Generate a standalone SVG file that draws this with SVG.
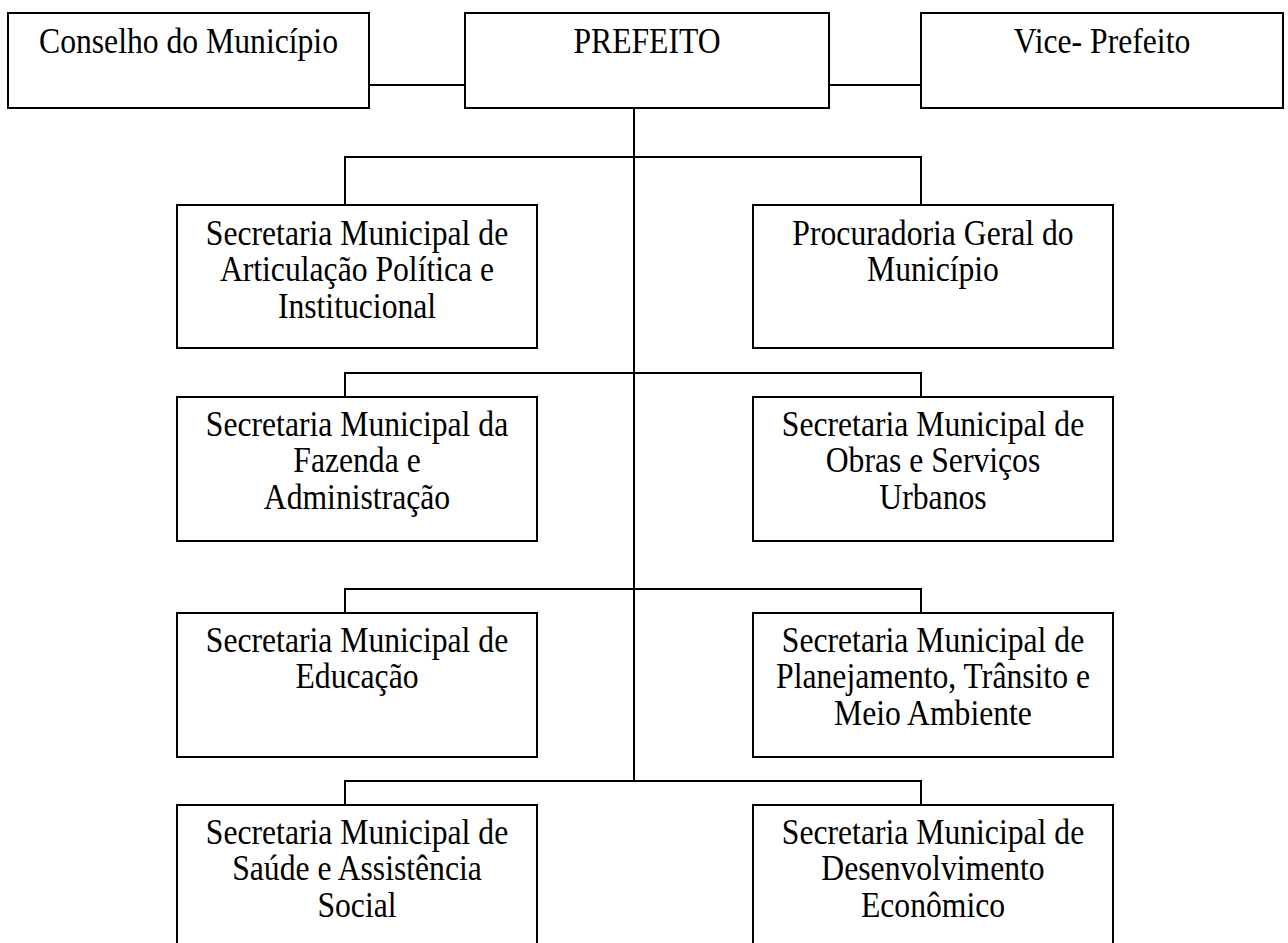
<svg xmlns="http://www.w3.org/2000/svg" width="1288" height="943" viewBox="0 0 1288 943">
<style>
.box{fill:#fff;stroke:#000;stroke-width:2}
.ln{fill:none;stroke:#000;stroke-width:2}
text{font-family:"Liberation Serif","Times New Roman",serif;font-size:35px;fill:#000;text-anchor:middle}
</style>
<rect width="1288" height="943" fill="#fff"/>
<g id="connectors">
<line class="ln" x1="369" y1="85" x2="465" y2="85"/>
<line class="ln" x1="829" y1="85" x2="921" y2="85"/>
<line class="ln" x1="634" y1="108" x2="634" y2="781"/>
<polyline class="ln" points="345,205 345,157 921,157 921,205"/>
<polyline class="ln" points="345,397 345,373 921,373 921,397"/>
<polyline class="ln" points="345,613 345,589 921,589 921,613"/>
<polyline class="ln" points="345,805 345,781 921,781 921,805"/>
</g>
<g id="conselho">
<rect class="box" x="8" y="13" width="361" height="95"/>
<g transform="matrix(0.905 0 0 1 188.5 0)"><text x="0" y="53">Conselho do Município</text></g>
</g>
<g id="prefeito">
<rect class="box" x="465" y="13" width="364" height="95"/>
<g transform="matrix(0.905 0 0 1 647 0)"><text x="0" y="53">PREFEITO</text></g>
</g>
<g id="vice">
<rect class="box" x="921" y="13" width="362" height="95"/>
<g transform="matrix(0.905 0 0 1 1102 0)"><text x="0" y="53">Vice- Prefeito</text></g>
</g>
<g id="sec-articulacao">
<rect class="box" x="177" y="205" width="360" height="143"/>
<g transform="matrix(0.905 0 0 1 357 0)">
<text x="0" y="245">Secretaria Municipal de</text>
<text x="0" y="281.5">Articulação Política e</text>
<text x="0" y="318">Institucional</text>
</g>
</g>
<g id="procuradoria">
<rect class="box" x="753" y="205" width="360" height="143"/>
<g transform="matrix(0.905 0 0 1 933 0)">
<text x="0" y="245">Procuradoria Geral do</text>
<text x="0" y="281.5">Município</text>
</g>
</g>
<g id="sec-fazenda">
<rect class="box" x="177" y="397" width="360" height="144"/>
<g transform="matrix(0.905 0 0 1 357 0)">
<text x="0" y="436">Secretaria Municipal da</text>
<text x="0" y="472.5">Fazenda e</text>
<text x="0" y="509">Administração</text>
</g>
</g>
<g id="sec-obras">
<rect class="box" x="753" y="397" width="360" height="144"/>
<g transform="matrix(0.905 0 0 1 933 0)">
<text x="0" y="436">Secretaria Municipal de</text>
<text x="0" y="472.5">Obras e Serviços</text>
<text x="0" y="509">Urbanos</text>
</g>
</g>
<g id="sec-educacao">
<rect class="box" x="177" y="613" width="360" height="144"/>
<g transform="matrix(0.905 0 0 1 357 0)">
<text x="0" y="652">Secretaria Municipal de</text>
<text x="0" y="688.5">Educação</text>
</g>
</g>
<g id="sec-planejamento">
<rect class="box" x="753" y="613" width="360" height="144"/>
<g transform="matrix(0.905 0 0 1 933 0)">
<text x="0" y="652">Secretaria Municipal de</text>
<text x="0" y="688.5">Planejamento, Trânsito e</text>
<text x="0" y="725">Meio Ambiente</text>
</g>
</g>
<g id="sec-saude">
<rect class="box" x="177" y="805" width="360" height="144"/>
<g transform="matrix(0.905 0 0 1 357 0)">
<text x="0" y="844">Secretaria Municipal de</text>
<text x="0" y="880.5">Saúde e Assistência</text>
<text x="0" y="917">Social</text>
</g>
</g>
<g id="sec-desenvolvimento">
<rect class="box" x="753" y="805" width="360" height="144"/>
<g transform="matrix(0.905 0 0 1 933 0)">
<text x="0" y="844">Secretaria Municipal de</text>
<text x="0" y="880.5">Desenvolvimento</text>
<text x="0" y="917">Econômico</text>
</g>
</g>
</svg>
